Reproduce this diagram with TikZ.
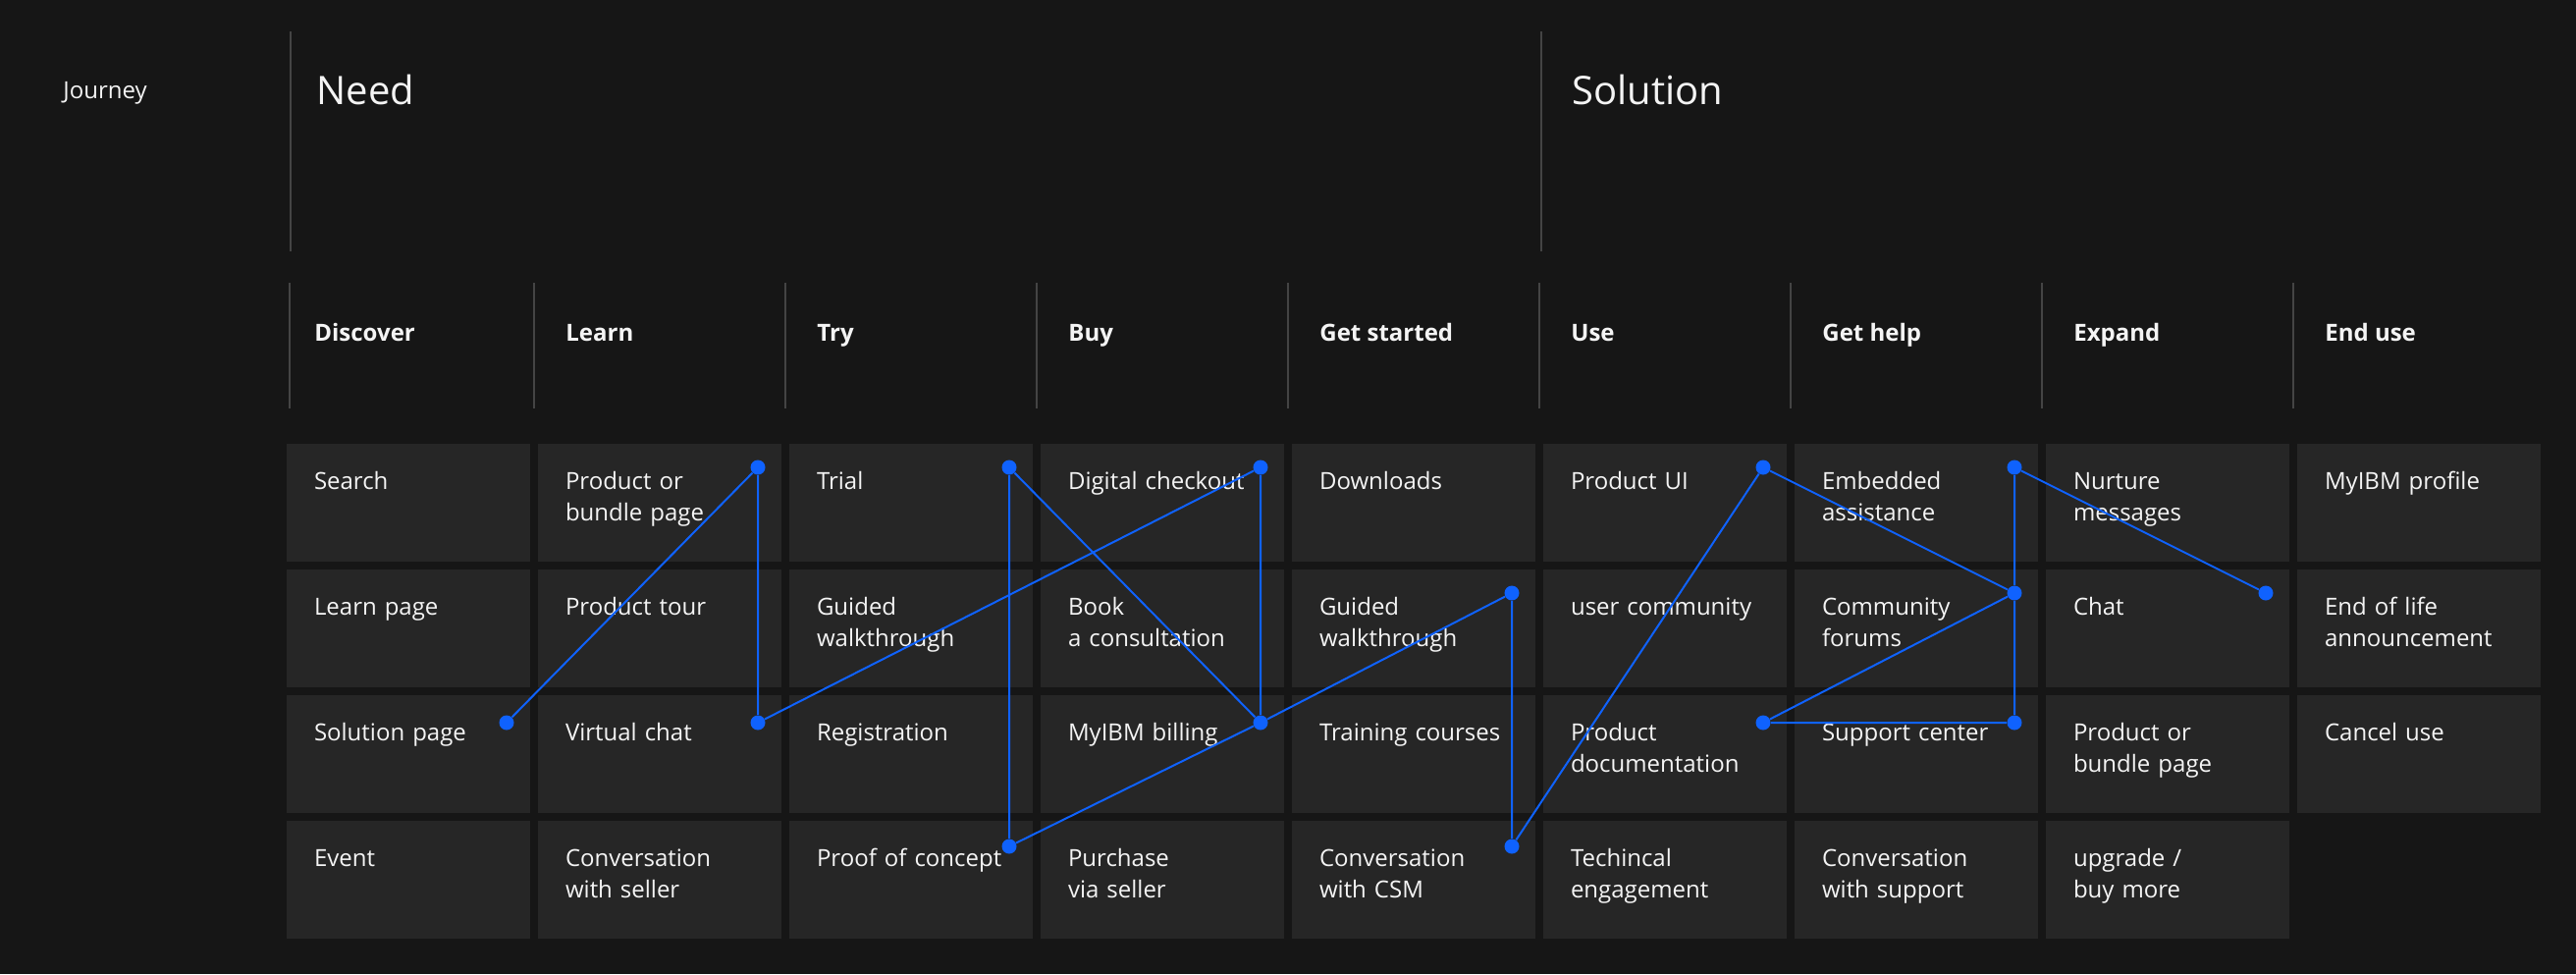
\documentclass[tikz,border=0pt]{standalone}
\usepackage{fontspec}
\setmainfont{Open Sans}
\usetikzlibrary{positioning}

\definecolor{pagebg}{HTML}{161616}
\definecolor{cellbg}{HTML}{262626}
\definecolor{rulegray}{HTML}{444444}
\definecolor{linkblue}{HTML}{0F62FE}
\definecolor{textwhite}{HTML}{F4F4F4}

\begin{document}
\begin{tikzpicture}[x=0.5pt,y=-0.5pt,
        cell/.style = {fill=cellbg, text=textwhite, anchor=north west, outer sep=0pt, inner xsep=14pt, inner ysep=0pt,
                       text width=96pt, text height=23pt, text depth=37pt, align=left, font=\fontsize{12}{16}\selectfont},
        stage/.style = {text=textwhite, anchor=base west, inner sep=0pt, font=\fontsize{12}{16}\selectfont\bfseries},
        phase/.style = {text=textwhite, anchor=base west, inner sep=0pt, font=\fontsize{20}{24}\selectfont},
        journey/.style = {text=textwhite, anchor=base west, inner sep=0pt, font=\fontsize{12}{16}\selectfont},
        divider/.style = {draw=rulegray, line width=1pt},
        dot/.style = {circle, fill=linkblue, inner sep=0pt, minimum size=7.5pt},
        link/.style = {draw=linkblue, line width=1pt}]

        \fill[pagebg] (0,0) rectangle (2624,992);

        % phases and stages
        \node[journey] (Journey) at (64,100) {Journey};
        \node[phase] (Need) at (322,106) {Need};
        \node[phase] (Solution) at (1601,106) {Solution};
        \draw[divider] (296,32) -- (296,256) (1570,32) -- (1570,256);

        \node[stage] (Discover) at (320,347) {Discover};
        \node[stage] (Learn) at (576,347) {Learn};
        \node[stage] (Try) at (832,347) {Try};
        \node[stage] (Buy) at (1088,347) {Buy};
        \node[stage] (GetStarted) at (1344,347) {Get started};
        \node[stage] (Use) at (1600,347) {Use};
        \node[stage] (GetHelp) at (1856,347) {Get help};
        \node[stage] (Expand) at (2112,347) {Expand};
        \node[stage] (EndUse) at (2368,347) {End use};
        \draw[divider] (295,288) -- (295,416) (544,288) -- (544,416) (800,288) -- (800,416)
                       (1056,288) -- (1056,416) (1312,288) -- (1312,416) (1568,288) -- (1568,416)
                       (1824,288) -- (1824,416) (2080,288) -- (2080,416) (2336,288) -- (2336,416);

        % touchpoint grid
        \node[cell] (Search) at (292,452) {Search};
        \node[cell] (LearnPage) [below=4pt of Search] {Learn page};
        \node[cell] (SolutionPage) [below=4pt of LearnPage] {Solution page};
        \node[cell] (Event) [below=4pt of SolutionPage] {Event};

        \node[cell] (ProductPage) [right=4pt of Search] {Product or\\bundle page};
        \node[cell] (ProductTour) [right=4pt of LearnPage] {Product tour};
        \node[cell] (VirtualChat) [right=4pt of SolutionPage] {Virtual chat};
        \node[cell] (ConvSeller) [right=4pt of Event] {Conversation\\with seller};

        \node[cell] (Trial) [right=4pt of ProductPage] {Trial};
        \node[cell] (GuidedTry) [right=4pt of ProductTour] {Guided\\walkthrough};
        \node[cell] (Registration) [right=4pt of VirtualChat] {Registration};
        \node[cell] (ProofConcept) [right=4pt of ConvSeller] {Proof of concept};

        \node[cell] (DigitalCheckout) [right=4pt of Trial] {Digital checkout};
        \node[cell] (BookConsult) [right=4pt of GuidedTry] {Book\\a consultation};
        \node[cell] (MyIBMBilling) [right=4pt of Registration] {MyIBM billing};
        \node[cell] (PurchaseSeller) [right=4pt of ProofConcept] {Purchase\\via seller};

        \node[cell] (Downloads) [right=4pt of DigitalCheckout] {Downloads};
        \node[cell] (GuidedStart) [right=4pt of BookConsult] {Guided\\walkthrough};
        \node[cell] (TrainingCourses) [right=4pt of MyIBMBilling] {Training courses};
        \node[cell] (ConvCSM) [right=4pt of PurchaseSeller] {Conversation\\with CSM};

        \node[cell] (ProductUI) [right=4pt of Downloads] {Product UI};
        \node[cell] (UserCommunity) [right=4pt of GuidedStart] {user community};
        \node[cell] (ProductDocs) [right=4pt of TrainingCourses] {Product\\documentation};
        \node[cell] (TechEngagement) [right=4pt of ConvCSM] {Techincal\\engagement};

        \node[cell] (EmbeddedAssist) [right=4pt of ProductUI] {Embedded\\assistance};
        \node[cell] (CommunityForums) [right=4pt of UserCommunity] {Community\\forums};
        \node[cell] (SupportCenter) [right=4pt of ProductDocs] {Support center};
        \node[cell] (ConvSupport) [right=4pt of TechEngagement] {Conversation\\with support};

        \node[cell] (NurtureMessages) [right=4pt of EmbeddedAssist] {Nurture\\messages};
        \node[cell] (Chat) [right=4pt of CommunityForums] {Chat};
        \node[cell] (ExpandProductPage) [right=4pt of SupportCenter] {Product or\\bundle page};
        \node[cell] (UpgradeBuyMore) [right=4pt of ConvSupport] {upgrade /\\buy more};

        \node[cell] (MyIBMProfile) [right=4pt of NurtureMessages] {MyIBM profile};
        \node[cell] (EndOfLife) [right=4pt of Chat] {End of life\\announcement};
        \node[cell] (CancelUse) [right=4pt of ExpandProductPage] {Cancel use};

        % journey path
        \node[dot] (SolutionPageDot) at ([xshift=-12pt,yshift=-14pt]SolutionPage.north east) {};
        \node[dot] (ProductPageDot) at ([xshift=-12pt,yshift=-12pt]ProductPage.north east) {};
        \node[dot] (VirtualChatDot) at ([xshift=-12pt,yshift=-14pt]VirtualChat.north east) {};
        \node[dot] (TrialDot) at ([xshift=-12pt,yshift=-12pt]Trial.north east) {};
        \node[dot] (ProofConceptDot) at ([xshift=-12pt,yshift=-13pt]ProofConcept.north east) {};
        \node[dot] (DigitalCheckoutDot) at ([xshift=-12pt,yshift=-12pt]DigitalCheckout.north east) {};
        \node[dot] (MyIBMBillingDot) at ([xshift=-12pt,yshift=-14pt]MyIBMBilling.north east) {};
        \node[dot] (GuidedStartDot) at ([xshift=-12pt,yshift=-12pt]GuidedStart.north east) {};
        \node[dot] (ConvCSMDot) at ([xshift=-12pt,yshift=-13pt]ConvCSM.north east) {};
        \node[dot] (ProductUIDot) at ([xshift=-12pt,yshift=-12pt]ProductUI.north east) {};
        \node[dot] (ProductDocsDot) at ([xshift=-12pt,yshift=-14pt]ProductDocs.north east) {};
        \node[dot] (EmbeddedAssistDot) at ([xshift=-12pt,yshift=-12pt]EmbeddedAssist.north east) {};
        \node[dot] (CommunityForumsDot) at ([xshift=-12pt,yshift=-12pt]CommunityForums.north east) {};
        \node[dot] (SupportCenterDot) at ([xshift=-12pt,yshift=-14pt]SupportCenter.north east) {};
        \node[dot] (ChatDot) at ([xshift=-12pt,yshift=-12pt]Chat.north east) {};

        \draw[link] (SolutionPageDot) -- (ProductPageDot) -- (VirtualChatDot) -- (DigitalCheckoutDot) -- (MyIBMBillingDot);
        \draw[link] (MyIBMBillingDot) -- (TrialDot) -- (ProofConceptDot) -- (MyIBMBillingDot) -- (GuidedStartDot) -- (ConvCSMDot) -- (ProductUIDot);
        \draw[link] (ProductUIDot) -- (CommunityForumsDot) -- (ProductDocsDot) -- (SupportCenterDot) -- (CommunityForumsDot);
        \draw[link] (CommunityForumsDot) -- (EmbeddedAssistDot) -- (ChatDot);
    \end{tikzpicture}
\end{document}
